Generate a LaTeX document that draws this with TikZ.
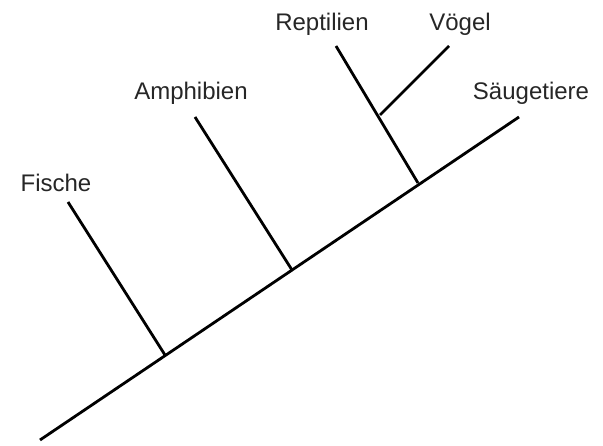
\documentclass[tikz,border=0pt]{standalone}
\usepackage{fontspec}
\setmainfont{Liberation Sans}
\begin{document}
\begin{tikzpicture}[x=1pt,y=1pt,line width=2.8pt,
                    taxon/.style={anchor=base,font=\fontsize{24}{28}\selectfont,text=black!85}]
                        \useasboundingbox (0,0) rectangle (603,445);
                        \coordinate (wurzel) at (40,5);
                        \coordinate (ende) at (519,328);
                        \coordinate (kF) at (165,90);
                        \coordinate (kA) at (292,175);
                        \coordinate (kR) at (418,262);
                        \coordinate (kV) at (380,330);
                        \coordinate (tF) at (68,243);
                        \coordinate (tA) at (195,328);
                        \coordinate (tR) at (336,399);
                        \coordinate (tV) at (449,399);
                        \draw (wurzel) -- (ende);
                        \draw (kF) -- (tF);
                        \draw (kA) -- (tA);
                        \draw (kR) -- (tR);
                        \draw (kV) -- (tV);
                        \node[taxon] (fische) at (56,253) {Fische};
                        \node[taxon] (amphibien) at (191,345) {Amphibien};
                        \node[taxon] (reptilien) at (322,414) {Reptilien};
                        \node[taxon] (voegel) at (460,414) {Vögel};
                        \node[taxon] (saeuger) at (531,345) {Säugetiere};
                    \end{tikzpicture}
\end{document}
